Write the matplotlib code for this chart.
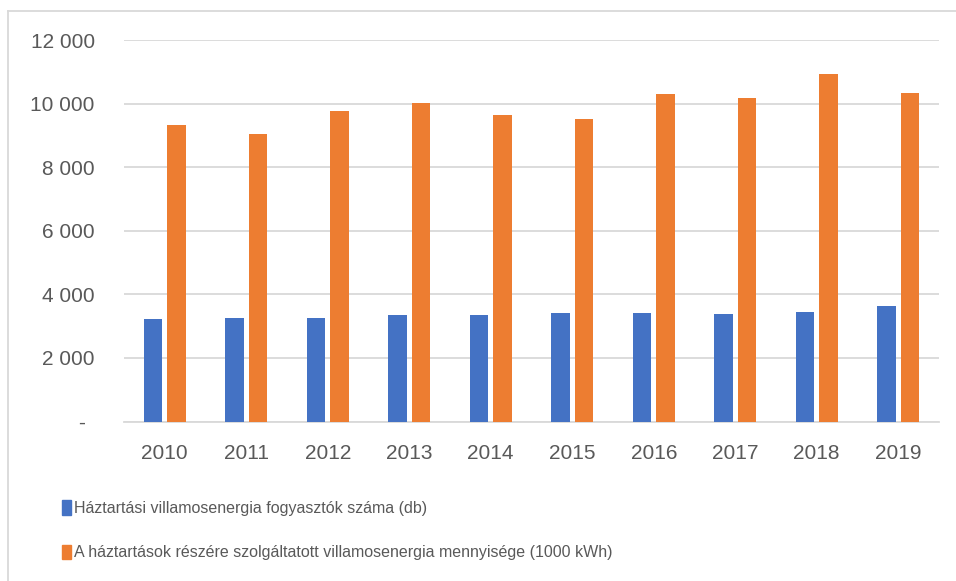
import matplotlib.pyplot as plt
from matplotlib.lines import Line2D
from matplotlib.patches import Patch
from matplotlib.ticker import FuncFormatter
from matplotlib.transforms import ScaledTranslation
import numpy as np

years = ['2010', '2011', '2012', '2013', '2014', '2015', '2016', '2017', '2018', '2019']
fogyasztok = [3228, 3250, 3240, 3347, 3347, 3406, 3416, 3395, 3458, 3634]
mennyiseg = [9319, 9058, 9780, 10010, 9633, 9529, 10314, 10188, 10942, 10333]
labels = ['Háztartási villamosenergia fogyasztók száma (db)',
          'A háztartások részére szolgáltatott villamosenergia mennyisége (1000 kWh)']
colors = ['#4472C4', '#ED7D31']

W, H = 956, 581
fig = plt.figure(figsize=(W / 100, H / 100), dpi=100)
ax = fig.add_axes([124 / W, 1 - 421.5 / H, (939 - 124) / W, (421.5 - 40) / H])

x = np.arange(len(years))
bw = 0.23
ax.bar(x - 0.143, fogyasztok, bw, color=colors[0], zorder=3)
ax.bar(x + 0.143, mennyiseg, bw, color=colors[1], zorder=3)

ax.set_xlim(-0.5, 9.5)
ax.set_ylim(0, 12000)
ax.set_yticks(np.arange(0, 12001, 2000))
ax.set_xticks(x)
ax.set_xticklabels(years)

def fmt(v, pos):
    if v == 0:
        return '-'
    return f'{v:,.0f}'.replace(',', ' ')

ax.yaxis.set_major_formatter(FuncFormatter(fmt))
ax.grid(axis='y', color='#d9d9d9', lw=1.3, zorder=0)
for s in ['top', 'right', 'left']:
    ax.spines[s].set_visible(False)
ax.spines['bottom'].set_color('#d9d9d9')
ax.spines['bottom'].set_linewidth(1.3)
ax.tick_params(length=0, labelcolor='#595959', labelsize=15)
ax.tick_params(axis='y', pad=21)
ax.tick_params(axis='x', pad=16)
for t in ax.get_yticklabels() + ax.get_xticklabels():
    t.set_family(['Liberation Sans', 'DejaVu Sans'])

# the zero label sits further left
zero = ax.yaxis.get_major_ticks()[0].label1
zero.set_transform(zero.get_transform() + ScaledTranslation(-0.10, 0, fig.dpi_scale_trans))

handles = [Patch(color=c) for c in colors]
fig.legend(handles, labels, loc='upper left', bbox_to_anchor=(54 / W, 1 - 492 / H),
           frameon=False, handlelength=0.55, handleheight=1.05, handletextpad=0.2,
           labelspacing=1.8, borderpad=0, labelcolor='#595959',
           prop={'family': ['Liberation Sans', 'DejaVu Sans'], 'size': 11.5})

# chart border
fig.add_artist(Line2D([7.5 / W, 7.5 / W], [0, 1 - 10.5 / H], transform=fig.transFigure, color='#d9d9d9', lw=1.3))
fig.add_artist(Line2D([7.5 / W, 1], [1 - 10.5 / H, 1 - 10.5 / H], transform=fig.transFigure, color='#d9d9d9', lw=1.3))

fig.savefig('out.png', dpi=100)
